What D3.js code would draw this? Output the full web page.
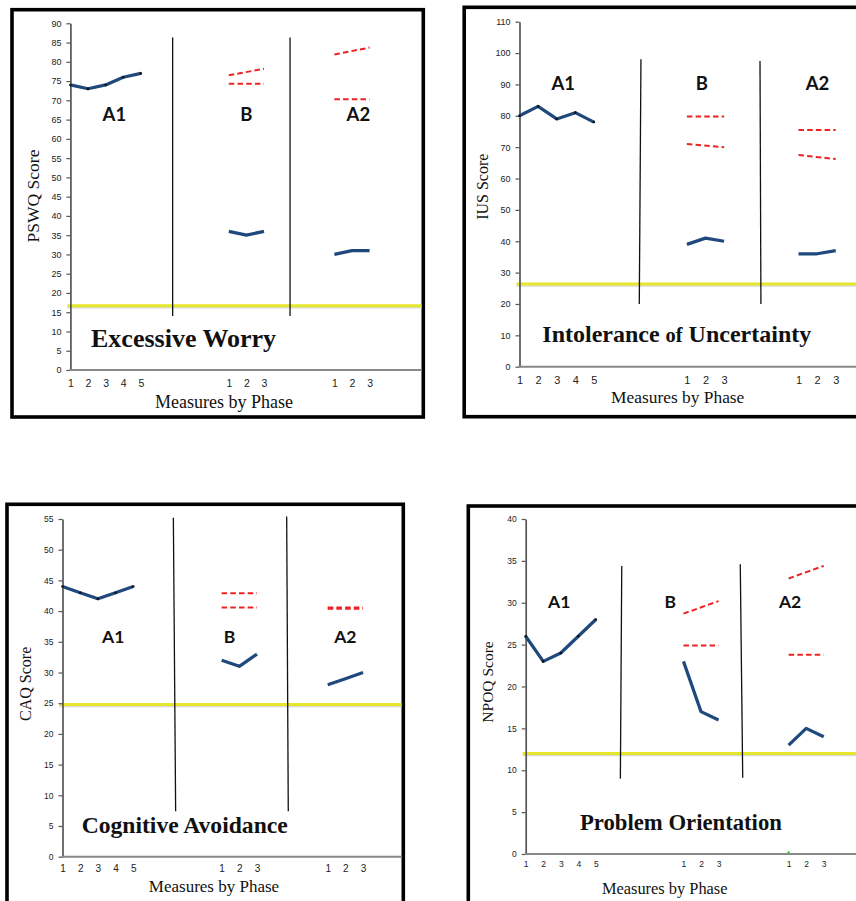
<!DOCTYPE html>
<html>
<head>
<meta charset="utf-8">
<script src="https://cdn.jsdelivr.net/npm/d3@7"></script>
<style>
  body { margin: 0; background: #fff; }
  svg { display: block; }
  .tick text { font-family: "Liberation Sans", Arial, sans-serif; fill: #222; }
  .serif { font-family: "Liberation Serif", "Times New Roman", serif; fill: #111; }
  .phase { font-family: Lato, "Liberation Sans", sans-serif; font-weight: 700; fill: #111; }
</style>
</head>
<body>
<svg id="chart" width="856" height="901"></svg>
<script>
// shared x categories (measure index within the whole study)
var idxA1 = [0, 1, 2, 3, 4],
    idxB = [9, 10, 11],
    idxA2 = [15, 16, 17];
var xTickIndex = idxA1.concat(idxB, idxA2);
var xTickLabels = ["1", "2", "3", "4", "5", "1", "2", "3", "1", "2", "3"];
var phaseNames = ["A1", "B", "A2"];

// PSWQ - excessive worry
var pswqA1 = [74, 73, 74, 76, 77],
    pswqB = [36, 35, 36],
    pswqA2 = [30, 31, 31];
var pswqBandB = [[76.5, 78.2], [74.3, 74.3]],
    pswqBandA2 = [[81.9, 83.7], [70.3, 70.3]];
var pswqCutoff = 16.7;
var pswqPhaseLines = [[5.81, 5.81, 86.3, 14.0], [12.48, 12.48, 86.3, 14.0]];

// IUS - intolerance of uncertainty
var iusA1 = [80, 83, 79, 81, 78],
    iusB = [39, 41, 40],
    iusA2 = [36, 36, 37];
var iusBandB = [[79.8, 79.8], [71, 70]],
    iusBandA2 = [[75.5, 75.5], [67.5, 66.2]];
var iusCutoff = 26.4;
var iusPhaseLines = [[6.53, 6.44, 98, 20], [12.93, 12.98, 97.5, 20]];

// CAQ - cognitive avoidance
var caqA1 = [44, 43, 42, 43, 44],
    caqB = [32, 31, 33],
    caqA2 = [28, 29, 30];
var caqBandB = [[42.9, 42.9], [40.6, 40.6]],
    caqBandA2 = [[40.6, 40.6], [40.4, 40.4]];
var caqCutoff = 24.8;
var caqPhaseLines = [[6.27, 6.40, 55.2, 7.4], [12.68, 12.77, 55.4, 7.4]];

// NPOQ - problem orientation
var npoqA1 = [26, 23, 24, 26, 28],
    npoqB = [23, 17, 16],
    npoqA2 = [13, 15, 14];
var npoqBandB = [[28.7, 30.2], [24.9, 24.9]],
    npoqBandA2 = [[32.9, 34.4], [23.8, 23.8]];
var npoqCutoff = 12.0;
var npoqPhaseLines = [[5.48, 5.40, 34.4, 9.0], [12.24, 12.38, 34.6, 9.1]];
var npoqStray = [[15, 0]];

var svg = d3.select("#chart");

var panels = [
  {title: ["Excessive Worry"], yLabel: "PSWQ Score", yMax: 90, yStep: 5,
   a1: pswqA1, b: pswqB, a2: pswqA2, bandB: pswqBandB, bandA2: pswqBandA2,
   cutoff: pswqCutoff, phaseLines: pswqPhaseLines, stray: [],
   frame: {x: 12, y: 9.7, w: 411.3, h: 407.3},
   x0: 70.4, step: 17.6, yBottom: 370, yTop: 23.3,
   titleAt: [91, 347], titleSize: 26,
   xLabelAt: [224, 408.3], xLabelSize: 18,
   yLabelAt: [33, 196], yLabelSize: 17.5,
   phaseAt: [[2.5, 66.3], [10, 66.3], [16.36, 66.3]], phaseSize: 18.5,
   yTickSize: 9, xTickSize: 10.5, xTickDy: 13.5},
  {title: ["Intolerance ", "of", " Uncertainty"], yLabel: "IUS Score", yMax: 110, yStep: 10,
   a1: iusA1, b: iusB, a2: iusA2, bandB: iusBandB, bandA2: iusBandA2,
   cutoff: iusCutoff, phaseLines: iusPhaseLines, stray: [],
   frame: {x: 464.2, y: 7.3, w: 430, h: 409.4},
   x0: 519.5, step: 18.6, yBottom: 366.7, yTop: 21.7,
   titleAt: [542.3, 341.7], titleSize: 24,
   xLabelAt: [677.7, 402.5], xLabelSize: 17.4,
   yLabelAt: [482.5, 186.7], yLabelSize: 16,
   phaseAt: [[2.35, 90.4], [9.8, 90.4], [16.02, 90.4]], phaseSize: 18.5,
   yTickSize: 9, xTickSize: 11, xTickDy: 13.3},
  {title: ["Cognitive Avoidance"], yLabel: "CAQ Score", yMax: 55, yStep: 5,
   a1: caqA1, b: caqB, a2: caqA2, bandB: caqBandB, bandA2: caqBandA2,
   cutoff: caqCutoff, phaseLines: caqPhaseLines, stray: [],
   frame: {x: 7, y: 504.3, w: 396.3, h: 430},
   x0: 62.5, step: 17.68, yBottom: 856.7, yTop: 519,
   titleAt: [81.7, 833.3], titleSize: 23.6,
   xLabelAt: [214, 891.7], xLabelSize: 17,
   yLabelAt: [25, 683.8], yLabelSize: 16,
   phaseAt: [[2.87, 35.8], [9.45, 35.8], [16.0, 35.8]], phaseSize: 17.5,
   yTickSize: 8.5, xTickSize: 10, xTickDy: 12.3},
  {title: ["Problem Orientation"], yLabel: "NPOQ Score", yMax: 40, yStep: 5,
   a1: npoqA1, b: npoqB, a2: npoqA2, bandB: npoqBandB, bandA2: npoqBandA2,
   cutoff: npoqCutoff, phaseLines: npoqPhaseLines, stray: npoqStray,
   frame: {x: 468.3, y: 506, w: 430, h: 430},
   x0: 525.7, step: 17.53, yBottom: 854, yTop: 519,
   titleAt: [580, 830], titleSize: 22.7,
   xLabelAt: [664.7, 894], xLabelSize: 16.4,
   yLabelAt: [487.3, 682], yLabelSize: 15.5,
   phaseAt: [[1.91, 30.1], [8.25, 30.1], [15.08, 30.1]], phaseSize: 17.5,
   yTickSize: 8.5, xTickSize: 8.5, xTickDy: 10.5}
];

panels.forEach(drawPanel);

function drawPanel(p) {
  var g = svg.append("g");
  var x = d3.scaleLinear().domain([0, 1]).range([p.x0, p.x0 + p.step]);
  var y = d3.scaleLinear().domain([0, p.yMax]).range([p.yBottom, p.yTop]);
  var right = Math.min(p.frame.x + p.frame.w - 1.8, 860);

  // frame
  g.append("rect")
    .attr("x", p.frame.x).attr("y", p.frame.y)
    .attr("width", p.frame.w).attr("height", p.frame.h)
    .attr("fill", "none").attr("stroke", "#000").attr("stroke-width", 3.6);

  // cutoff line (yellow with a faint shadow)
  g.append("line")
    .attr("x1", x(0) - 3).attr("x2", right)
    .attr("y1", y(p.cutoff) + 2).attr("y2", y(p.cutoff) + 2)
    .attr("stroke", "#d8d8d8").attr("stroke-width", 1.5);
  g.append("line")
    .attr("x1", x(0) - 3).attr("x2", right)
    .attr("y1", y(p.cutoff)).attr("y2", y(p.cutoff))
    .attr("stroke", "#e6e62a").attr("stroke-width", 3);

  // y axis
  var yAxis = g.append("g")
    .attr("transform", "translate(" + x(0) + ",0)")
    .call(d3.axisLeft(y)
      .tickValues(d3.range(0, p.yMax + 0.1, p.yStep))
      .tickSize(4).tickSizeOuter(0).tickPadding(5));
  yAxis.select(".domain").attr("stroke", "#555").attr("stroke-width", 1.7);
  yAxis.selectAll(".tick line").attr("stroke", "#555").attr("stroke-width", 1.2);
  yAxis.selectAll(".tick text").style("font-size", p.yTickSize + "px");

  // x axis
  g.append("line")
    .attr("x1", x(0) - 1).attr("x2", right)
    .attr("y1", y(0)).attr("y2", y(0))
    .attr("stroke", "#888").attr("stroke-width", 2);
  var xAxis = g.append("g")
    .attr("transform", "translate(0," + y(0) + ")")
    .call(d3.axisBottom(x)
      .tickValues(xTickIndex)
      .tickFormat(function(d, i) { return xTickLabels[i]; })
      .tickSize(0).tickPadding(0));
  xAxis.select(".domain").remove();
  xAxis.selectAll(".tick text")
    .attr("y", p.xTickDy).attr("dy", "0.35em")
    .style("font-size", p.xTickSize + "px");

  // phase change lines
  g.selectAll(".phase-line")
    .data(p.phaseLines)
    .enter().append("line")
    .attr("x1", function(d) { return x(d[0]); })
    .attr("x2", function(d) { return x(d[1]); })
    .attr("y1", function(d) { return y(d[2]); })
    .attr("y2", function(d) { return y(d[3]); })
    .attr("stroke", "#111").attr("stroke-width", 1.3);

  // red dashed bands
  var bands = [
    {i: idxB, v: p.bandB[0]}, {i: idxB, v: p.bandB[1]},
    {i: idxA2, v: p.bandA2[0]}, {i: idxA2, v: p.bandA2[1]}
  ];
  g.selectAll(".band")
    .data(bands)
    .enter().append("line")
    .attr("x1", function(d) { return x(d.i[0]); })
    .attr("x2", function(d) { return x(d.i[d.i.length - 1]); })
    .attr("y1", function(d) { return y(d.v[0]); })
    .attr("y2", function(d) { return y(d.v[1]); })
    .attr("stroke", "#ee2222").attr("stroke-width", 2)
    .attr("stroke-dasharray", "5.5,3.2");

  // series lines
  var line = d3.line()
    .x(function(d) { return x(d[0]); })
    .y(function(d) { return y(d[1]); });
  var series = [d3.zip(idxA1, p.a1), d3.zip(idxB, p.b), d3.zip(idxA2, p.a2)];
  g.selectAll(".series")
    .data(series)
    .enter().append("path")
    .attr("d", line)
    .attr("fill", "none")
    .attr("stroke", "#1f497d").attr("stroke-width", 3.2)
    .attr("stroke-linejoin", "round");
  g.selectAll(".dot")
    .data(series[0])
    .enter().append("circle")
    .attr("cx", function(d) { return x(d[0]); })
    .attr("cy", function(d) { return y(d[1]); })
    .attr("r", 1.3).attr("fill", "#111");
  g.selectAll(".stray")
    .data(p.stray)
    .enter().append("circle")
    .attr("cx", function(d) { return x(d[0]); })
    .attr("cy", function(d) { return y(d[1]) - 1.5; })
    .attr("r", 1.2).attr("fill", "#3c3");

  // phase labels
  g.selectAll(".phase")
    .data(p.phaseAt)
    .enter().append("text")
    .attr("class", "phase")
    .attr("x", function(d) { return x(d[0]); })
    .attr("y", function(d) { return y(d[1]); })
    .attr("dy", "0.36em")
    .attr("text-anchor", "middle")
    .style("font-size", p.phaseSize + "px")
    .text(function(d, i) { return phaseNames[i]; });

  // texts
  var title = g.append("text")
    .attr("class", "serif")
    .attr("x", p.titleAt[0]).attr("y", p.titleAt[1])
    .style("font-size", p.titleSize + "px")
    .style("font-weight", "bold");
  title.selectAll("tspan")
    .data(p.title)
    .enter().append("tspan")
    .style("font-size", function(d) { return d === "of" ? (p.titleSize * 0.85) + "px" : null; })
    .text(function(d) { return d; });
  g.append("text")
    .attr("class", "serif")
    .attr("x", p.xLabelAt[0]).attr("y", p.xLabelAt[1])
    .attr("text-anchor", "middle")
    .style("font-size", p.xLabelSize + "px")
    .text("Measures by Phase");
  g.append("text")
    .attr("class", "serif")
    .attr("transform", "translate(" + p.yLabelAt[0] + "," + p.yLabelAt[1] + ") rotate(-90)")
    .attr("dy", "0.35em")
    .attr("text-anchor", "middle")
    .style("font-size", p.yLabelSize + "px")
    .text(p.yLabel);
}
</script>
</body>
</html>
